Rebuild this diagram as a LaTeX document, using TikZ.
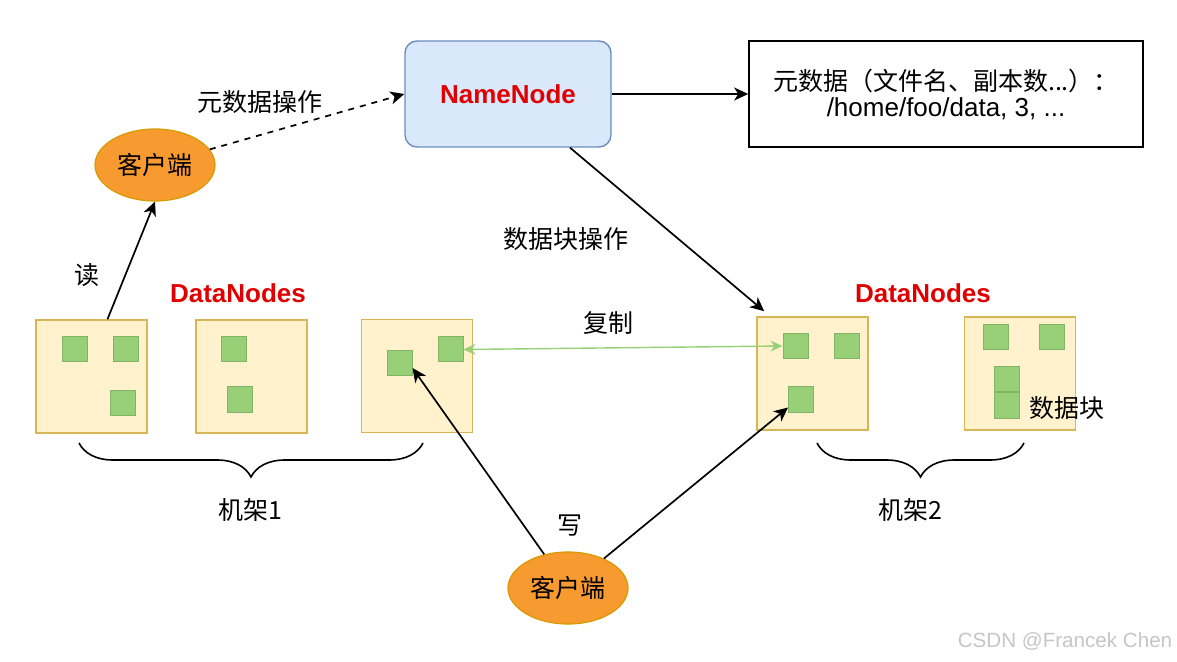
\documentclass[tikz,border=0pt]{standalone}
\usepackage{fontspec}
\setmainfont{Liberation Sans}
\newfontfamily\cjk{Noto Sans CJK SC}
\usetikzlibrary{positioning, arrows.meta, shapes.geometric, decorations.pathreplacing}
\definecolor{nnfill}{HTML}{DAE8FC}
\definecolor{nnline}{HTML}{6C8EBF}
\definecolor{hdred}{HTML}{E00000}
\definecolor{clfill}{HTML}{F79A30}
\definecolor{clline}{HTML}{D79B00}
\definecolor{rkfill}{HTML}{FFF2CC}
\definecolor{rkline}{HTML}{D6B656}
\definecolor{blfill}{HTML}{97D077}
\definecolor{blline}{HTML}{82B366}
\tikzset{
arr/.style={-{Stealth[length=7pt,width=6.5pt,inset=2pt]}, line width=0.85pt}, % black connectors
namebox/.style={rectangle, rounded corners=6pt, draw=nnline, fill=nnfill, line width=0.7pt,
  minimum width=103pt, minimum height=53pt, text=hdred, font=\fontsize{13}{15}\selectfont\bfseries},
infobox/.style={rectangle, draw, line width=0.8pt, minimum width=197pt, minimum height=53pt, align=center},
client/.style={ellipse, draw=clline, fill=clfill, line width=0.6pt, inner sep=1pt,
  minimum width=60pt, minimum height=36pt, font=\cjk\fontsize{12.5}{15}\selectfont},
rackbox/.style={rectangle, draw=rkline, fill=rkfill, line width=0.8pt, minimum width=55.5pt, minimum height=56.5pt},
block/.style={rectangle, draw=blline, fill=blfill, line width=0.5pt, minimum size=12.5pt, inner sep=0pt},
cntext/.style={font=\cjk\fontsize{12.5}{15}\selectfont},
dntext/.style={text=hdred, font=\fontsize{13}{15}\selectfont\bfseries},
rackbrace/.style={decorate, decoration={brace, amplitude=17pt, mirror}, line width=0.8pt},
}

\begin{document}
\begin{tikzpicture}[x=0.5pt, y=-0.5pt]
  \useasboundingbox[fill=white] (0,0) rectangle (1177,662);

  % top row
  \node[namebox] (nn) at (508,94) {NameNode};
  \node[infobox] (info) at (946,94) {{\cjk\fontsize{12.5}{16.5}\selectfont 元数据（文件名、副本数...）：}\\[1pt]
    {\fontsize{13}{16.5}\selectfont /home/foo/data, 3, ...}};
  \node[client] (cl1) at (155,165) {客户端};

  % rack 1
  \node[rackbox] (rk1) at (91.5,376.5) {};
  \node[rackbox] (rk2) at (251.5,376.5) {};
  \node[rackbox] (rk3) at (417,376) {};
  \node[block] (b1a) at (74.5,349.5) {};
  \node[block] (b1b) at (125.5,349.5) {};
  \node[block] (b1c) at (123,403) {};
  \node[block] (b2a) at (234,349.5) {};
  \node[block] (b2b) at (239.5,399.5) {};
  \node[block] (b3a) at (399.5,363) {};
  \node[block] (b3b) at (450.5,349.5) {};

  % rack 2
  \node[rackbox] (rk4) at (812.5,373.5) {};
  \node[rackbox] (rk5) at (1020,373.5) {};
  \node[block] (b4a) at (795.5,346) {};
  \node[block] (b4b) at (847,346) {};
  \node[block] (b4c) at (801,399.5) {};
  \node[block] (b5a) at (995.5,337.5) {};
  \node[block] (b5b) at (1052,337.5) {};
  \node[block] (b5c) at (1006.5,379.5) {};
  \node[block] (b5d) at (1006.5,405.5) {};

  \node[client] (cl2) at (568,588) {客户端};

  % texts
  \node[dntext] (dn1) at (238,293) {DataNodes};
  \node[dntext] (dn2) at (923,293) {DataNodes};
  \node[cntext] (tmeta) at (260,102) {元数据操作};
  \node[cntext] (tread) at (87,275) {读};
  \node[cntext] (tblkop) at (566,239) {数据块操作};
  \node[cntext] (tcopy) at (608,323) {复制};
  \node[cntext] (twrite) at (570,526) {写};
  \node[cntext] (tblk) at (1067,408) {数据块};
  \node[cntext] (tr1) at (250,510) {机架1};
  \node[cntext] (tr2) at (910,510) {机架2};
  \node[text=gray!45, font=\fontsize{10.3}{12}\selectfont] (wm) at (1065,641) {CSDN @Francek Chen};

  % connectors
  \draw[arr, dashed] (cl1) -- (nn.west);
  \draw[arr] (nn.east) -- (info.west);
  \draw[arr] ([xshift=8pt]rk1.north) -- (cl1.south);
  \draw[arr] ([xshift=31pt]nn.south) -- ([shift={(4pt,2.5pt)}]rk4.north west);
  \draw[{Stealth[length=6pt,width=5.5pt,inset=2pt]}-{Stealth[length=6pt,width=5.5pt,inset=2pt]}, blfill, line width=0.7pt] (b3b.east) -- (b4a.west);
  \draw[arr] (cl2) -- ([yshift=-2.5pt]b3a.east);
  \draw[arr] (cl2) -- ([yshift=2.5pt]b4c.south west);

  % braces
  \coordinate (br1a) at (79,443);
  \coordinate (br1b) at (423,443);
  \coordinate (br2a) at (817,443);
  \coordinate (br2b) at (1024,443);
  \draw[rackbrace] (br1a) -- (br1b);
  \draw[rackbrace] (br2a) -- (br2b);
\end{tikzpicture}
\end{document}
